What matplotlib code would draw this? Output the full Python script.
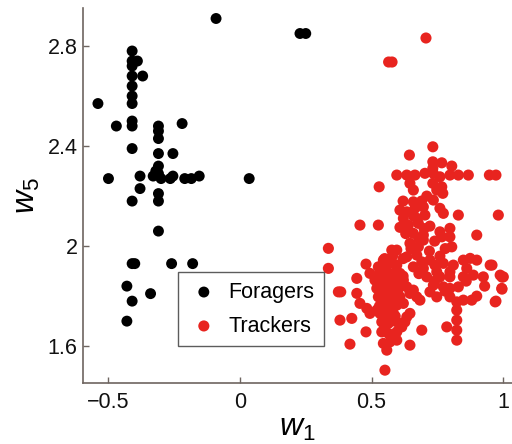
import matplotlib
matplotlib.use("Agg")
import matplotlib.pyplot as plt

plt.rcParams["font.family"] = ["Liberation Sans", "DejaVu Sans"]
plt.rcParams["mathtext.fontset"] = "custom"
plt.rcParams["mathtext.it"] = "Liberation Sans:italic"
plt.rcParams["mathtext.rm"] = "Liberation Sans"

# Foragers: (w1, w5)
foragers_w1 = [-0.091, 0.228, 0.250,
               -0.41, -0.41, -0.39, -0.41, -0.37, -0.41, -0.41, -0.41, -0.41,
               -0.54, -0.47, -0.41, -0.41, -0.22, -0.31, -0.31, -0.31, -0.41,
               -0.31, -0.255, -0.50, -0.38, -0.33, -0.32, -0.31, -0.31, -0.30,
               -0.265, -0.255, -0.21, -0.185, -0.155, 0.035, -0.38, -0.41,
               -0.31, -0.31, -0.31, -0.41, -0.40, -0.26, -0.18, -0.43, -0.34,
               -0.41, -0.43]
foragers_w5 = [2.91, 2.85, 2.85,
               2.78, 2.74, 2.74, 2.72, 2.68, 2.68, 2.64, 2.60, 2.57,
               2.57, 2.48, 2.50, 2.48, 2.49, 2.48, 2.46, 2.43, 2.39,
               2.37, 2.37, 2.27, 2.28, 2.28, 2.30, 2.32, 2.29, 2.27,
               2.27, 2.28, 2.27, 2.27, 2.28, 2.27, 2.23, 2.18,
               2.21, 2.18, 2.06, 1.93, 1.93, 1.93, 1.93, 1.84, 1.81,
               1.78, 1.70]

# Trackers: (w1, w5)
trackers_w1 = [0.707, 0.565, 0.578,
    0.733, 0.644, 0.733, 0.767, 0.805, 0.733, 0.596, 0.634, 0.665, 0.703,
    0.735, 0.760, 0.798, 0.830, 0.868, 0.948, 0.973, 0.529, 0.646, 0.659,
    0.733, 0.748, 0.767, 0.771, 0.659, 0.735, 0.608, 0.634, 0.665, 0.697,
    0.621, 0.672, 0.703, 0.760, 0.773, 0.830, 0.982, 0.456, 0.526, 0.608,
    0.640, 0.678, 0.722, 0.659, 0.697, 0.760, 0.798, 0.767, 0.798, 0.900,
    0.336, 0.596, 0.577, 0.646, 0.678, 0.697, 0.805, 0.634, 0.672, 0.691,
    0.722, 0.741, 0.773, 0.811, 0.849, 0.875, 0.900, 0.951, 0.862, 0.798,
    0.748, 0.697, 0.659, 0.710, 0.760, 0.798, 0.849, 0.887, 0.925, 0.989,
    1.001, 0.995, 0.735, 0.773, 0.798, 0.830, 0.722, 0.748, 0.798, 0.849,
    0.881, 0.824, 0.970, 0.684, 0.672, 0.659, 0.824, 0.824, 0.824, 0.824,
    0.786, 0.691, 0.646, 0.479, 0.336, 0.526, 0.545, 0.570, 0.596, 0.532,
    0.558, 0.583, 0.608, 0.444, 0.513, 0.539, 0.564, 0.596, 0.621, 0.520,
    0.545, 0.570, 0.602, 0.374, 0.383, 0.444, 0.526, 0.551, 0.577, 0.608,
    0.456, 0.482, 0.539, 0.564, 0.596, 0.621, 0.494, 0.532, 0.558, 0.583,
    0.380, 0.425, 0.539, 0.564, 0.596, 0.627, 0.479, 0.539, 0.564, 0.596,
    0.418, 0.545, 0.570, 0.596, 0.551, 0.558, 0.583, 0.615, 0.634, 0.646,
    0.520, 0.545, 0.494, 0.634, 0.646, 0.958, 0.996, 0.996, 0.973,
    0.55, 0.58, 0.56, 0.59, 0.55, 0.58, 0.56, 0.59, 0.55, 0.58, 0.53, 0.60,
    0.62, 0.65, 0.68, 0.63, 0.66, 0.69, 0.71, 0.62, 0.70, 0.74, 0.78, 0.72,
    0.76, 0.68, 0.74, 0.78, 0.86, 0.90, 0.93, 0.62]
trackers_w5 = [2.832, 2.736, 2.736,
    2.397, 2.364, 2.337, 2.333, 2.320, 2.311, 2.284, 2.284, 2.284, 2.291,
    2.291, 2.277, 2.284, 2.284, 2.284, 2.284, 2.284, 2.237, 2.251, 2.224,
    2.251, 2.224, 2.237, 2.211, 2.177, 2.184, 2.144, 2.137, 2.151, 2.157,
    2.111, 2.111, 2.124, 2.151, 2.131, 2.124, 2.124, 2.084, 2.084, 2.075,
    2.084, 2.091, 2.080, 2.051, 2.044, 2.057, 2.071, 2.037, 2.037, 2.044,
    1.991, 1.984, 1.984, 2.011, 1.997, 2.024, 1.997, 1.957, 1.964, 1.937,
    1.944, 1.924, 1.931, 1.924, 1.944, 1.951, 1.944, 1.924, 1.911, 1.897,
    1.897, 1.911, 1.917, 1.877, 1.877, 1.877, 1.877, 1.884, 1.877, 1.884,
    1.877, 1.831, 1.844, 1.837, 1.831, 1.837, 1.817, 1.797, 1.797, 1.784,
    1.784, 1.777, 1.777, 1.784, 1.797, 1.824, 1.744, 1.704, 1.664, 1.624,
    1.677, 1.664, 1.604, 1.928, 1.911, 1.917, 1.924, 1.931, 1.924, 1.891,
    1.897, 1.891, 1.891, 1.871, 1.864, 1.857, 1.864, 1.864, 1.864, 1.831,
    1.824, 1.831, 1.831, 1.817, 1.817, 1.811, 1.797, 1.791, 1.797, 1.797,
    1.771, 1.751, 1.764, 1.757, 1.764, 1.771, 1.731, 1.731, 1.724, 1.731,
    1.704, 1.711, 1.697, 1.691, 1.697, 1.697, 1.657, 1.657, 1.651, 1.657,
    1.608, 1.611, 1.617, 1.624, 1.504, 1.584, 1.644, 1.677, 1.717, 1.731,
    1.744, 1.944, 1.891, 1.837, 1.811, 1.924, 1.876, 1.828, 1.780,
    1.95, 1.96, 1.87, 1.85, 1.80, 1.78, 1.74, 1.72, 1.68, 1.63, 1.76, 1.81,
    1.95, 1.99, 2.03, 2.05, 2.12, 2.18, 2.20, 2.18, 2.07, 2.02, 1.99, 1.98,
    1.96, 1.89, 1.86, 1.82, 1.86, 1.80, 1.84, 1.88]

x_ticks = [-0.5, 0, 0.5, 1]
x_tick_labels = ["\u22120.5", "0", "0.5", "1"]
y_ticks = [1.6, 2.0, 2.4, 2.8]
y_tick_labels = ["1.6", "2", "2.4", "2.8"]

spine_col = "#6e6560"
red = "#e8241f"

fig = plt.figure(figsize=(5.12, 4.44), dpi=100)
ax = fig.add_axes([0.162, 0.137, 0.838, 0.845])

ax.scatter(foragers_w1, foragers_w5, s=62, c="black", edgecolors="none",
           label="Foragers", zorder=3)
ax.scatter(trackers_w1, trackers_w5, s=64, c=red, edgecolors="none",
           label="Trackers", zorder=2)

ax.set_xlim(-0.597, 1.034)
ax.set_ylim(1.452, 2.952)
ax.set_xticks(x_ticks)
ax.set_xticklabels(x_tick_labels)
ax.set_yticks(y_ticks)
ax.set_yticklabels(y_tick_labels)

for side in ("top", "right"):
    ax.spines[side].set_visible(False)
for side in ("left", "bottom"):
    ax.spines[side].set_color(spine_col)
    ax.spines[side].set_linewidth(1.2)
ax.tick_params(direction="in", length=4, width=1, color=spine_col,
               labelsize=15.5, labelcolor="#111111")
ax.tick_params(axis="y", pad=4)
ax.tick_params(axis="x", pad=6)

ax.set_xlabel(r"$w_\mathit{1}$", fontsize=23, labelpad=0)
ax.set_ylabel(r"$w_\mathit{5}$", fontsize=23, labelpad=4)

leg = ax.legend(loc="upper left", bbox_to_anchor=(178 / 512, 1 - 272 / 444),
                bbox_transform=fig.transFigure, fontsize=15.5, frameon=True,
                fancybox=False, shadow=False, borderpad=0.45,
                labelspacing=0.6, handlelength=1.5, handletextpad=0.4,
                borderaxespad=0, scatterpoints=1)
leg.get_frame().set_edgecolor("#333333")
leg.get_frame().set_linewidth(1.0)

fig.savefig("out.png", dpi=100)
